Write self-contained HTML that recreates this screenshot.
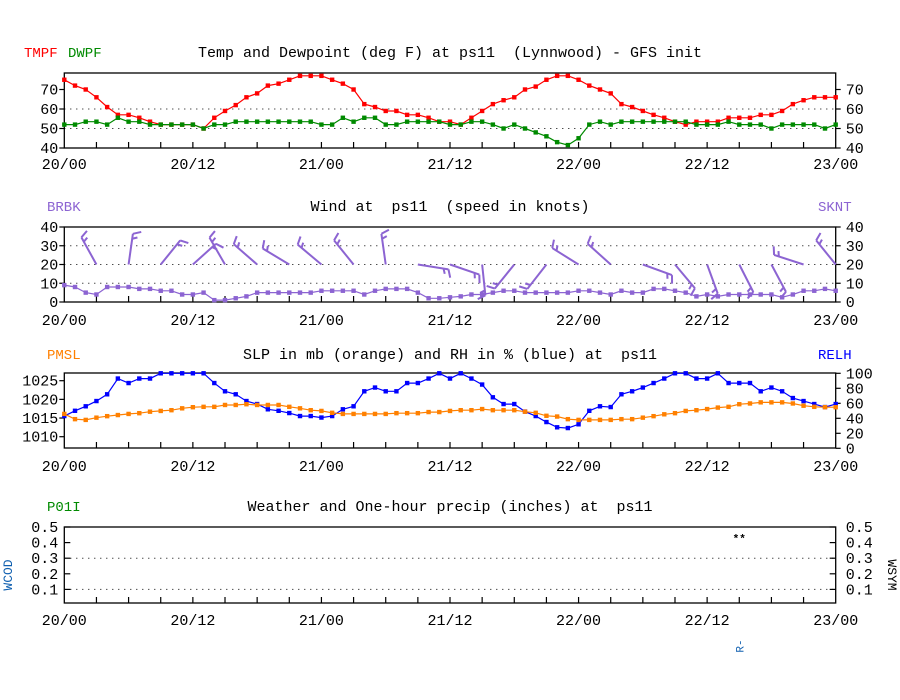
<!DOCTYPE html>
<html><head><meta charset="utf-8"><style>
html,body{margin:0;padding:0;background:#fff;}
svg{display:block;}
text{font-family:"Liberation Mono",monospace;font-size:14px;white-space:pre;}
</style></head><body>
<svg id="chart" width="900" height="700" viewBox="0 0 900 700" xmlns="http://www.w3.org/2000/svg" xml:space="preserve"></svg>
<script>
const hours = Array.from({length:73},(_, i)=>i);
const xTickLabels = ["20/00","20/12","21/00","21/12","22/00","22/12","23/00"];
const tmpf = [75,72,70,66,61,57,57,55.5,53.5,52,52,52,52,50,55.5,59,62,66,68,72,73,75,77,77,77,75,73,70,62.5,61,59,59,57,57,55.5,53.5,53.5,52,55.5,59,62.5,64.5,66,70,71.5,75,77,77,75,72,70,68,62.5,61,59,57,55.5,53.5,52,53.5,53.5,53.5,55.5,55.5,55.5,57,57,59,62.5,64.5,66,66,66];
const dwpf = [52,52,53.5,53.5,52,55.5,53.5,53.5,52,52,52,52,52,50,52,52,53.5,53.5,53.5,53.5,53.5,53.5,53.5,53.5,52,52,55.5,53.5,55.5,55.5,52,52,53.5,53.5,53.5,53.5,52,52,53.5,53.5,52,50,52,50,48,46,43,41.5,45,52,53.5,52,53.5,53.5,53.5,53.5,53.5,53.5,53.5,52,52,52,53.5,52,52,52,50,52,52,52,52,50,52];
const sknt = [9,8,5,4,8,8,8,7,7,6,6,4,4,5,1,1,2,3,5,5,5,5,5,5,6,6,6,6,4,6,7,7,7,5,2,2,2.5,3,4,4,5,6,6,5,5,5,5,5,6,6,5,4,6,5,5,7,7,6,5,3,4,3,4,4,4,4,4,2.5,4,6,6,7,6];
const barbHours = [3,6,9,12,15,18,21,24,27,30,33,36,39,42,45,48,51,54,57,60,63,66,69,72];
const barbDir = [331,8,39,48,330,311,301,310,321,352,99,109,174,219,218,302,312,110,140,160,153,152,288,321];
const relh = [43,50,56,63,72,93,87,93,93,100,100,100,100,100,87,76,72,63,59,52,50,47,43,43,41,43,52,56,76,81,76,76,87,87,93,100,93,100,93,85,68,59,59,49,43,35,28,27,32,50,56,55,72,76,81,87,93,100,100,93,93,100,87,87,87,76,81,76,67,63,59,55,59];
const pmsl = [1016.1,1014.7,1014.5,1015.1,1015.5,1015.8,1016.1,1016.3,1016.7,1016.9,1017.1,1017.6,1017.9,1018.0,1018.0,1018.5,1018.5,1018.7,1018.5,1018.5,1018.5,1018.0,1017.6,1017.1,1016.9,1016.4,1016.1,1016.1,1016.1,1016.1,1016.1,1016.3,1016.3,1016.3,1016.6,1016.6,1016.9,1017.1,1017.1,1017.4,1017.1,1017.1,1017.1,1016.7,1016.4,1015.6,1015.4,1014.7,1014.5,1014.5,1014.5,1014.5,1014.7,1014.7,1015.1,1015.5,1016.0,1016.3,1016.9,1017.1,1017.4,1017.8,1018.0,1018.7,1018.9,1019.2,1019.2,1019.2,1018.9,1018.3,1018.0,1017.9,1017.9];
const wsymHours = [63];
const wsymVals = [0.45];
const wsymText = ["**"];
const wcodHours = [63];
const wcodText = ["R-"];
const t1Ticks=[40,50,60,70], t2Ticks=[0,10,20,30,40], t3Left=[1010,1015,1020,1025], t3Right=[0,20,40,60,80,100], t4Ticks=[0.1,0.2,0.3,0.4,0.5];

const svg=document.getElementById('chart');
const NS="http://www.w3.org/2000/svg";
const X0=64.3, X1=835.7;
const x=h=>X0+(h/72)*(X1-X0);
function mk(tag,attrs,parent){const e=document.createElementNS(NS,tag);for(const k in attrs)e.setAttribute(k,attrs[k]);(parent||svg).appendChild(e);return e;}
function txt(s,xx,yy,anchor,color,parent){const t=mk('text',{x:xx,y:yy,'text-anchor':anchor||'start',fill:color||'#000'},parent);t.textContent=s;return t;}
function lin(v0,v1,p0,p1){return v=>p0+(v-v0)*(p1-p0)/(v1-v0);}

function panel(name,top,bot,title,titleY,labY){
  const g=mk('g',{});
  
  
  const r=mk('rect',{x:X0,y:top,width:X1-X0,height:bot-top,fill:'none',stroke:'#000','stroke-width':1.3},g);
  
  
  const tt=txt(title,450,titleY,'middle','#000',g);
  tt.setAttribute('style','font-size:15px');
  
  
  for(let h=3;h<72;h+=3){const tk=mk('line',{x1:x(h),x2:x(h),y1:bot,y2:bot-6,stroke:'#000','stroke-width':1.2},g);
    }
  xTickLabels.forEach((l,i)=>{const t=txt(l,x(i*12),labY,'middle','#000',g);
    t.setAttribute('style','font-size:15px');
    });
  return g;
}
function grid(g,ys){ys.forEach(yy=>{const l=mk('line',{x1:X0,x2:X1,y1:yy,y2:yy,stroke:'#000','stroke-width':1,'stroke-dasharray':'1,5'},g);
  });}
function yTicks(g,vals,sc,side,fmt,inside){vals.forEach(v=>{const yy=sc(v);
  const xx=side==='l'?X0:X1; const d=(side==='l')?(inside?6:-5):(inside?-6:5);
  const l=mk('line',{x1:xx,x2:xx+d,y1:yy,y2:yy,stroke:'#000','stroke-width':1.2},g);
  
  const t=txt(fmt(v),side==='l'?X0-6:X1+10,yy+5,side==='l'?'end':'start','#000',g);
  t.setAttribute('style','font-size:15px');
  });}
function series(g,vals,sc,color,name){const pts=vals.map((v,i)=>x(hours[i]).toFixed(1)+','+sc(v).toFixed(1)).join(' ');
  const p=mk('polyline',{points:pts,fill:'none',stroke:color,'stroke-width':1.2},g);
  
  vals.forEach((v,i)=>{const c=mk('rect',{x:x(hours[i])-2.2,y:sc(v)-2.2,width:4.4,height:4.4,fill:color},g);
    });}
function label(g,s,xx,yy,color,name){const t=txt(s,xx,yy,'start',color,g);}

// Panel 1
const g1=panel('temp-panel',73,148,'Temp and Dewpoint (deg F) at ps11  (Lynnwood) - GFS init',57,169);
const y1=lin(40,70,148,89.5);
grid(g1,[y1(50),y1(60)]);
yTicks(g1,t1Ticks,y1,'l',v=>v,false);yTicks(g1,t1Ticks,y1,'r',v=>v,false);
series(g1,tmpf,y1,'#ff0000','tmpf');series(g1,dwpf,y1,'#008a00','dwpf');
label(g1,'TMPF',24,57,'#ff0000','tmpf-label');label(g1,'DWPF',68,57,'#008a00','dwpf-label');

// Panel 2
const PUR='#8c64d2';
const g2=panel('wind-panel',227,302,'Wind at  ps11  (speed in knots)',211,325);
const y2=lin(0,40,302,227);
grid(g2,[y2(10),y2(20),y2(30)]);
yTicks(g2,t2Ticks,y2,'l',v=>v,false);yTicks(g2,t2Ticks,y2,'r',v=>v,false);
series(g2,sknt,y2,PUR,'sknt');
barbHours.forEach((h,i)=>{const bx=x(h),by=y2(20),a=barbDir[i]*Math.PI/180,L=31;
  const ux=Math.sin(a),uy=-Math.cos(a);const ex=bx+ux*L,ey=by+uy*L;
  const px=-uy,py=ux;
  const bg=mk('g',{stroke:PUR,'stroke-width':2,fill:'none'},g2);
  
  mk('line',{x1:bx,y1:by,x2:ex,y2:ey},bg);
  mk('line',{x1:ex,y1:ey,x2:ex+px*8+ux*3,y2:ey+py*8+uy*3},bg);
  const mx=bx+ux*(L-5),my=by+uy*(L-5);
  mk('line',{x1:mx,y1:my,x2:mx+px*5+ux*2,y2:my+py*5+uy*2},bg);
});
label(g2,'BRBK',47,211,PUR,'brbk-label');label(g2,'SKNT',818,211,PUR,'sknt-label');

// Panel 3
const g3=panel('slp-rh-panel',373,448,'SLP in mb (orange) and RH in % (blue) at  ps11',359,471);
const y3=lin(1010,1025,436.7,380.7);const y3r=lin(0,100,448.3,373.3);
yTicks(g3,t3Left,y3,'l',v=>v,false);yTicks(g3,t3Right,y3r,'r',v=>v,false);
series(g3,relh,y3r,'#0000ff','relh');series(g3,pmsl,y3,'#ff8000','pmsl');
label(g3,'PMSL',47,359,'#ff8000','pmsl-label');label(g3,'RELH',818,359,'#0000ff','relh-label');

// Panel 4
const g4=panel('precip-panel',527,603,'Weather and One-hour precip (inches) at  ps11',511,625);
const y4=lin(0,0.5,605,527);
grid(g4,[y4(0.1),y4(0.3)]);
yTicks(g4,t4Ticks,y4,'l',v=>v.toFixed(1),true);yTicks(g4,t4Ticks,y4,'r',v=>v.toFixed(1),true);
label(g4,'P01I',47,511,'#008a00','p01i-label');
wsymHours.forEach((h,i)=>{const t=txt(wsymText[i],x(h),y4(wsymVals[i])+7,'middle','#000',g4);t.setAttribute('style','font-size:11px;font-weight:bold');
  });
wcodHours.forEach((h,i)=>{const t=txt(wcodText[i],0,0,'middle','#1060b0',g4);t.setAttribute('transform','translate('+(x(h)+4)+',646) rotate(-90)');t.setAttribute('style','font-size:11px');
  });
const wc=txt('WCOD',0,0,'middle','#1060b0',g4);wc.setAttribute('transform','translate(12,575) rotate(-90)');wc.setAttribute('style','font-size:13px');

const ws=txt('WSYM',0,0,'middle','#000',g4);ws.setAttribute('transform','translate(888,575) rotate(90)');ws.setAttribute('style','font-size:13px');

</script>
</body></html>
